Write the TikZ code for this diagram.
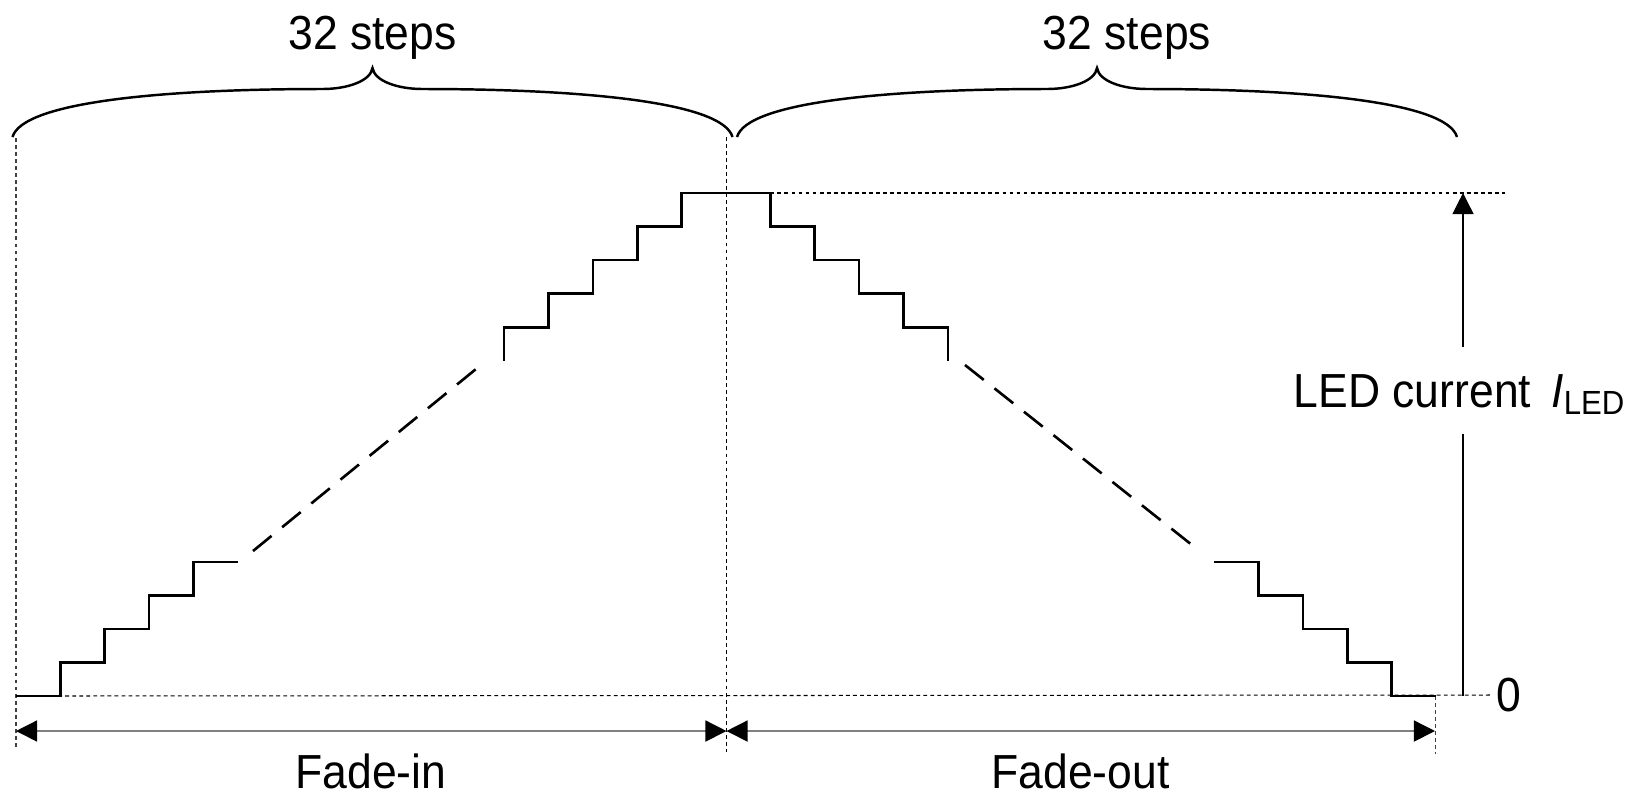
\documentclass[tikz,border=0pt]{standalone}
\usepackage{fontspec}
\setmainfont{Liberation Sans}[FakeStretch=0.93]
\usepackage{tikz}
\usetikzlibrary{arrows.meta}
\tikzset{stairs/.style = {line width = 0.75pt}}
\tikzset{skipline/.style = {line width = 0.75pt, dash pattern = on 6.8pt off 3.9pt}}
\tikzset{guide/.style = {line width = 0.3pt, dash pattern = on 1.1pt off 0.9pt}}
\tikzset{dimline/.style = {gray, line width = 0.4pt,
                           arrows = {Triangle[length=6pt, width=6pt, color=black]-Triangle[length=6pt, width=6pt, color=black]}}}
\tikzset{uparrow/.style = {line width = 0.35pt, arrows = {-Triangle[length=6pt, width=6pt]}}}
\tikzset{lbl/.style = {font = \fontsize{13.6}{16}\selectfont, inner sep = 1pt}}
\tikzset{sbrace/.pic = {\draw [line width = 0.7pt] (0, 0) .. controls (10, -35) and (150, -48) .. (310, -48)
                          .. controls (335, -48) and (358, -56) .. (360, -69)
                          .. controls (362, -56) and (385, -48) .. (410, -48)
                          .. controls (570, -48) and (710, -35) .. (720, 0);}}

\begin{document}
\begin{tikzpicture}[x = 0.01cm, y = -0.01cm]
    \useasboundingbox (0, 0) rectangle (1628, 796);

    \coordinate (fl) at (16, 731);
    \coordinate (fm) at (726.5, 731);
    \coordinate (fr) at (1435, 731);
    \coordinate (ibot) at (1463, 696);
    \coordinate (ilow) at (1463, 434);
    \coordinate (ihigh) at (1463, 347);
    \coordinate (itop) at (1463, 193);

    \node [lbl] (zero) at (1509, 695) {0};
    \node [lbl, anchor = base] (ilbl) at (1460, 407) {LED current \,{\itshape I}\textsubscript{LED}};
    \node [lbl, anchor = base] (fadein) at (371, 788) {Fade-in};
    \node [lbl, anchor = base] (fadeout) at (1080.5, 788) {Fade-out};
    \node [lbl, anchor = base] (stepsin) at (372.5, 49.5) {32 steps};
    \node [lbl, anchor = base] (stepsout) at (1127, 49.5) {32 steps};

    % guides
    \draw [guide, black!75] (16, 138) -- (16, 749);
    \draw [guide] (726.5, 137) -- (726.5, 752);
    \draw [guide, black!75] (1435, 696) -- (1435, 754);
    \draw [guide] (770.4, 193) -- (1505, 193);
    \draw [guide] (16, 696) -- (zero.west);

    \pic at (12.5, 137) {sbrace};
    \pic at (737, 137) {sbrace};

    \draw [stairs] (16, 696) -- (60.4, 696) -- (60.4, 662.5) -- (104.8, 662.5) -- (104.8, 628.9) -- (149.1, 628.9)
        -- (149.1, 595.4) -- (193.5, 595.4) -- (193.5, 561.9) -- (237.9, 561.9);
    \draw [stairs] (504.1, 360.7) -- (504.1, 327.2) -- (548.5, 327.2) -- (548.5, 293.6) -- (592.9, 293.6) -- (592.9, 260.1)
        -- (637.3, 260.1) -- (637.3, 226.6) -- (681.6, 226.6) -- (681.6, 193) -- (770.4, 193) -- (770.4, 226.6)
        -- (814.8, 226.6) -- (814.8, 260.1) -- (859.1, 260.1) -- (859.1, 293.6) -- (903.5, 293.6) -- (903.5, 327.2)
        -- (947.9, 327.2) -- (947.9, 360.7);
    \draw [stairs] (1214.1, 561.9) -- (1258.5, 561.9) -- (1258.5, 595.4) -- (1302.9, 595.4) -- (1302.9, 628.9)
        -- (1347.3, 628.9) -- (1347.3, 662.5) -- (1391.6, 662.5) -- (1391.6, 696) -- (1436, 696);
    \draw [skipline] (253, 551) -- (476, 369);
    \draw [skipline] (965, 365) -- (1192, 545);

    \draw [dimline] (fl) -- (fm);
    \draw [dimline] (fm) -- (fr);
    \draw [line width = 0.35pt] (ibot) -- (ilow);
    \draw [uparrow] (ihigh) -- (itop);
\end{tikzpicture}
\end{document}
